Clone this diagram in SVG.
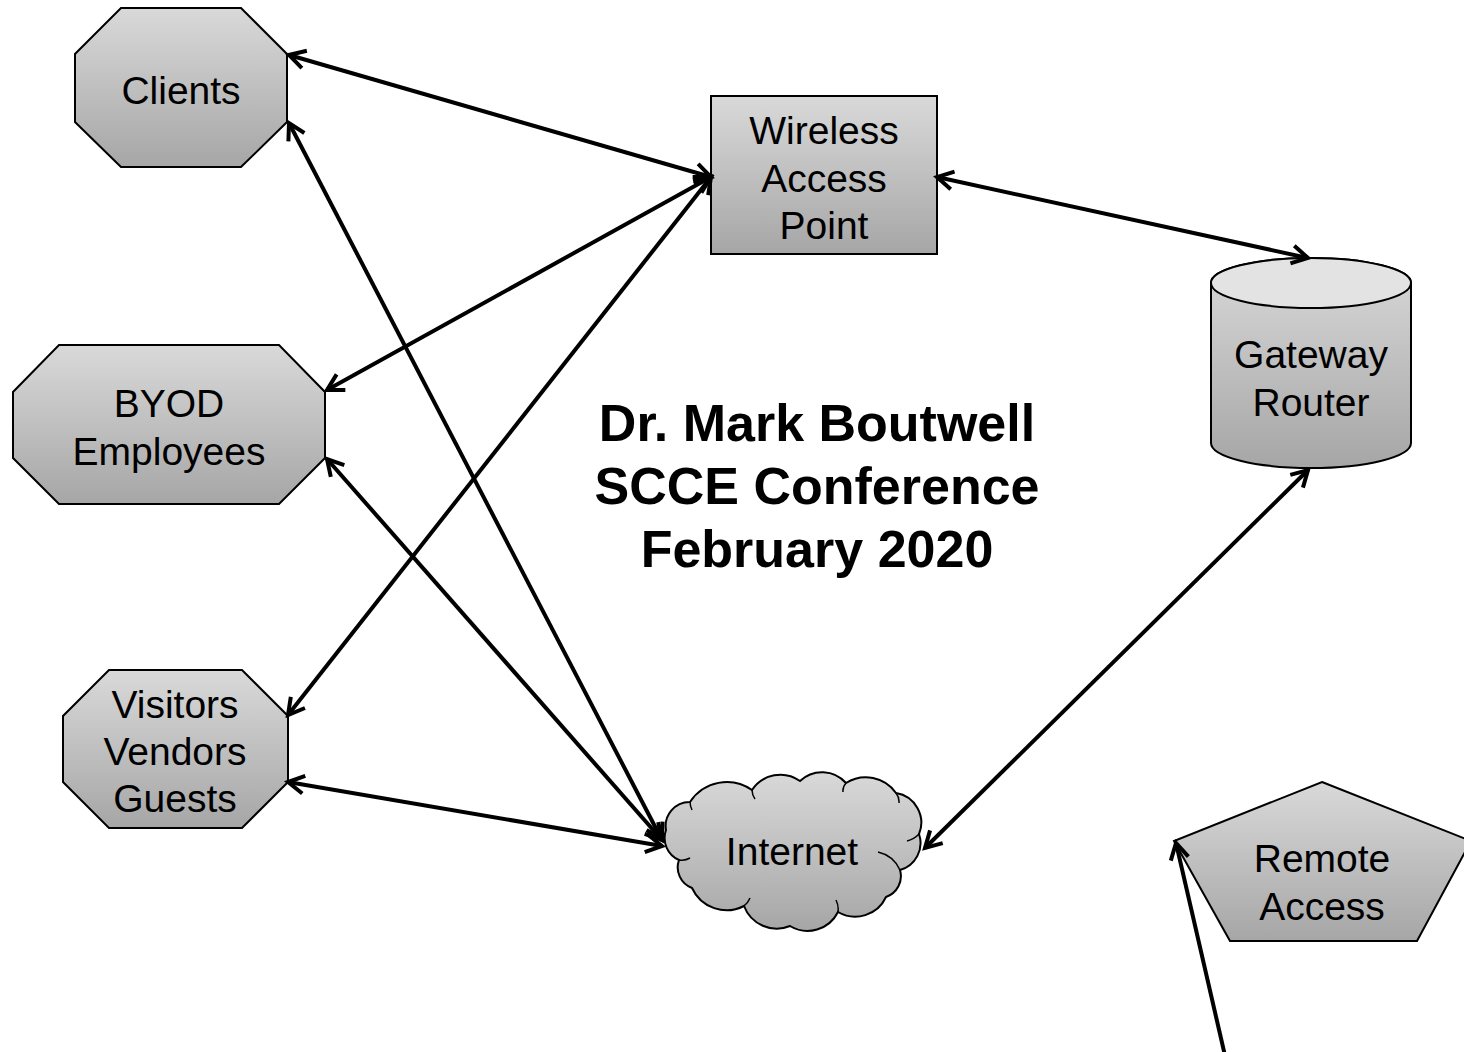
<svg xmlns="http://www.w3.org/2000/svg" width="1464" height="1052" viewBox="0 0 1464 1052">
<defs>
<linearGradient id="g" x1="0" y1="0" x2="0" y2="1">
<stop offset="0" stop-color="#d9d9d9"/>
<stop offset="1" stop-color="#a6a6a6"/>
</linearGradient>
<marker id="arr" viewBox="-22 -14 26 28" refX="0" refY="0" markerWidth="26" markerHeight="28" markerUnits="userSpaceOnUse" orient="auto-start-reverse">
<path d="M-16,-9 L0,0 L-16,9" fill="none" stroke="#000" stroke-width="4"/>
</marker>
<style>
.shape{fill:url(#g);stroke:#000;stroke-width:2}
.lbl{font-family:"Liberation Sans",Arial,sans-serif;font-size:39px;fill:#000;text-anchor:middle}
.title{font-family:"Liberation Sans",Arial,sans-serif;font-size:52px;font-weight:bold;fill:#000;text-anchor:middle}
.conn{stroke:#000;stroke-width:4;fill:none}
.inner{fill:none;stroke:#000;stroke-width:1.5}
</style>
</defs>
<rect width="1464" height="1052" fill="#fff"/>
<g id="clients">
<polygon class="shape" points="121,8 241,8 287,54 287,122 241,167 121,167 75,122 75,54"/>
<text class="lbl" x="181" y="104">Clients</text>
</g>
<g id="byod">
<polygon class="shape" points="59,345 279,345 325,392 325,458 279,504 59,504 13,458 13,392"/>
<text class="lbl" x="169" y="417">BYOD</text>
<text class="lbl" x="169" y="465">Employees</text>
</g>
<g id="visitors">
<polygon class="shape" points="109,670 242,670 288,716 288,782 242,828 109,828 63,782 63,716"/>
<text class="lbl" x="175" y="718">Visitors</text>
<text class="lbl" x="175" y="765">Vendors</text>
<text class="lbl" x="175" y="812">Guests</text>
</g>
<g id="wap">
<rect class="shape" x="711" y="96" width="226" height="158"/>
<text class="lbl" x="824" y="144">Wireless</text>
<text class="lbl" x="824" y="192">Access</text>
<text class="lbl" x="824" y="239">Point</text>
</g>
<g id="gateway">
<path class="shape" d="M1211,283 L1211,443 A100,25 0 0 0 1411,443 L1411,283 A100,25 0 0 0 1211,283 Z"/>
<ellipse cx="1311" cy="283" rx="100" ry="25" fill="#e3e3e3" stroke="#000" stroke-width="2"/>
<text class="lbl" x="1311" y="368">Gateway</text>
<text class="lbl" x="1311" y="416">Router</text>
</g>
<g id="internet">
<path class="shape" d="M666,830 A24,24 0 0 1 690,802 A44,44 0 0 1 752,790 A34,34 0 0 1 800,781 A32,32 0 0 1 846,783 A37,37 0 0 1 896,793 A30,30 0 0 1 919,834 A28,28 0 0 1 900,870 A22,22 0 0 1 886,897 A34,34 0 0 1 838,912 A34,34 0 0 1 790,926 A35,35 0 0 1 744,906 A38,38 0 0 1 692,888 A22,22 0 0 1 679,860 A24,24 0 0 1 666,830 Z"/>
<path class="inner" d="M690,802 A20,20 0 0 0 692,810 M752,790 A16,16 0 0 0 755,799 M846,783 A12,12 0 0 0 843,792 M896,793 A14,14 0 0 1 899,803 M919,834 A24,24 0 0 1 907,841 M900,870 A32,32 0 0 0 878,852 M838,912 A20,20 0 0 0 836,900 M744,906 A20,20 0 0 0 750,898 M679,860 A16,16 0 0 0 690,858"/>
<text class="lbl" x="792" y="865">Internet</text>
</g>
<g id="remote">
<polygon class="shape" points="1322,782 1471,841 1417,941 1230,941 1174,841"/>
<text class="lbl" x="1322" y="872">Remote</text>
<text class="lbl" x="1322" y="920">Access</text>
</g>
<g id="title">
<text class="title" x="817" y="441">Dr. Mark Boutwell</text>
<text class="title" x="817" y="504">SCCE Conference</text>
<text class="title" x="817" y="567">February 2020</text>
</g>
<g id="connectors">
<line class="conn" x1="289" y1="55" x2="711" y2="177" marker-start="url(#arr)" marker-end="url(#arr)"/>
<line class="conn" x1="289" y1="123" x2="662" y2="840" marker-start="url(#arr)" marker-end="url(#arr)"/>
<line class="conn" x1="711" y1="177" x2="327" y2="390" marker-start="url(#arr)" marker-end="url(#arr)"/>
<line class="conn" x1="711" y1="177" x2="288" y2="715" marker-start="url(#arr)" marker-end="url(#arr)"/>
<line class="conn" x1="327" y1="459" x2="662" y2="840" marker-start="url(#arr)" marker-end="url(#arr)"/>
<line class="conn" x1="288" y1="782" x2="662" y2="846" marker-start="url(#arr)" marker-end="url(#arr)"/>
<line class="conn" x1="937" y1="177" x2="1308" y2="258" marker-start="url(#arr)" marker-end="url(#arr)"/>
<line class="conn" x1="1308" y1="470" x2="925" y2="848" marker-start="url(#arr)" marker-end="url(#arr)"/>
<line class="conn" x1="1226" y1="1060" x2="1176" y2="843" marker-end="url(#arr)"/>
</g>
</svg>
